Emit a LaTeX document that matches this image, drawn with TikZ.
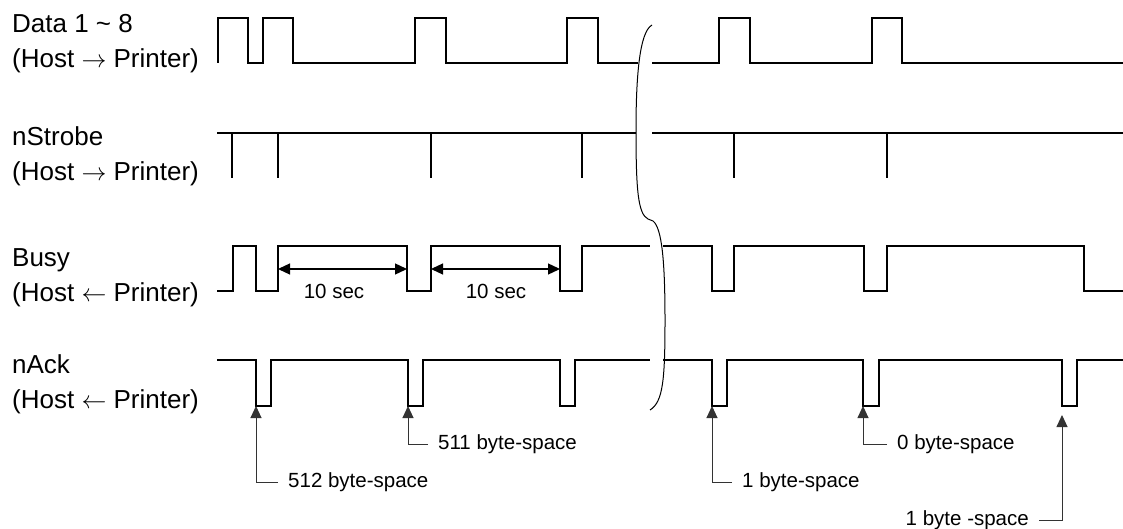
\documentclass[tikz,border=0pt]{standalone}
\usepackage{fontspec}
\setmainfont{Liberation Sans}
\usepackage{tikz}
\usetikzlibrary{arrows.meta, positioning}
\tikzset{
    timing/.style={x=1pt, y=-1pt},
    signal/.style={line width=1.7pt, line join=miter},
    signal label/.style={align=left, inner sep=0pt, anchor=base west,
        font=\fontsize{26}{35}\selectfont},
    period arrow/.style={{Triangle[length=12pt,width=11pt]}-{Triangle[length=12pt,width=11pt]},
        line width=1.3pt},
    period label/.style={inner sep=0pt, font=\fontsize{20.5}{24}\selectfont},
    space note/.style={inner ysep=0pt, inner xsep=10pt, font=\fontsize{20.5}{24}\selectfont},
    space arrow/.style={-{Triangle[length=12pt,width=11pt]}, line width=1pt, black!80},
    break mark/.style={line width=1pt},
}

\begin{document}
\begin{tikzpicture}[timing]
    \useasboundingbox (0,0) rectangle (1123,529);

    % signal names
    \node[signal label] (data) at (12,68) {Data 1 \textasciitilde\ 8\\(Host $\rightarrow$ Printer)};
    \node[signal label] (strobe) at (12,181) {nStrobe\\(Host $\rightarrow$ Printer)};
    \node[signal label] (busy) at (12,301) {Busy\\(Host $\leftarrow$ Printer)};
    \node[signal label] (ack) at (12,408) {nAck\\(Host $\leftarrow$ Printer)};

    % Data 1 ~ 8
    \draw[signal] (218,63) -- (218,18) -- (248,18) -- (248,63) -- (263,63) -- (263,18)
        -- (293,18) -- (293,63) -- (415,63) -- (415,18) -- (446,18) -- (446,63)
        -- (567,63) -- (567,18) -- (598,18) -- (598,63) -- (638,63);
    \draw[signal] (652,63) -- (719,63) -- (719,18) -- (750,18) -- (750,63)
        -- (872,63) -- (872,18) -- (902,18) -- (902,63) -- (1123,63);

    % nStrobe
    \draw[signal] (217,133) -- (636,133);
    \draw[signal] (652,133) -- (1123,133);
    \draw[signal] (232,133) -- (232,178);
    \draw[signal] (278,133) -- (278,178);
    \draw[signal] (431,133) -- (431,178);
    \draw[signal] (582,133) -- (582,178);
    \draw[signal] (734,133) -- (734,178);
    \draw[signal] (887,133) -- (887,178);

    % Busy
    \draw[signal] (217,291) -- (233,291) -- (233,246) -- (256,246) -- (256,291) -- (278,291)
        -- (278,246) -- (407,246) -- (407,291) -- (431,291) -- (431,246) -- (560,246)
        -- (560,291) -- (582,291) -- (582,246) -- (650,246);
    \draw[signal] (663,246) -- (712,246) -- (712,291) -- (734,291) -- (734,246)
        -- (864,246) -- (864,291) -- (887,291) -- (887,246) -- (1084,246)
        -- (1084,291) -- (1123,291);

    \coordinate (b1) at (278,269);
    \coordinate (b2) at (407,269);
    \coordinate (b3) at (431,269);
    \coordinate (b4) at (560,269);
    \draw[period arrow] (b1) -- (b2);
    \draw[period arrow] (b3) -- (b4);
    \node[period label] (sec1) at (334,291) {10 sec};
    \node[period label] (sec2) at (496,291) {10 sec};

    % nAck
    \draw[signal] (217,360) -- (256,360) -- (256,406) -- (271,406) -- (271,360)
        -- (408,360) -- (408,406) -- (423,406) -- (423,360) -- (560,360)
        -- (560,406) -- (575,406) -- (575,360) -- (650,360);
    \draw[signal] (663,360) -- (712,360) -- (712,406) -- (727,406) -- (727,360)
        -- (863,360) -- (863,406) -- (879,406) -- (879,360) -- (1062,360)
        -- (1062,406) -- (1077,406) -- (1077,360) -- (1123,360);

    % time break
    \draw[break mark] (652,25) .. controls (639,32) and (636,80) .. (636,130)
        .. controls (636,190) and (638,214) .. (648,219) -- (653,221)
        .. controls (662,228) and (665,262) .. (665,320)
        .. controls (665,380) and (663,402) .. (650,410);

    % byte-space notes
    \coordinate (a512) at (256,406);
    \coordinate (a511) at (408,406);
    \coordinate (a1) at (712,406);
    \coordinate (a0) at (863,406);
    \coordinate (a1b) at (1062,415);

    \node[space note, anchor=west] (n512) at (278,482) {512 byte-space};
    \node[space note, anchor=west] (n511) at (428,444) {511 byte-space};
    \node[space note, anchor=west] (n1) at (732,482) {1 byte-space};
    \node[space note, anchor=west] (n0) at (887,444) {0 byte-space};
    \node[space note, anchor=east] (n1b) at (1039,520) {1 byte -space};

    \draw[space arrow] (n512.west) -| (a512);
    \draw[space arrow] (n511.west) -| (a511);
    \draw[space arrow] (n1.west) -| (a1);
    \draw[space arrow] (n0.west) -| (a0);
    \draw[space arrow] (n1b.east) -| (a1b);
\end{tikzpicture}
\end{document}
